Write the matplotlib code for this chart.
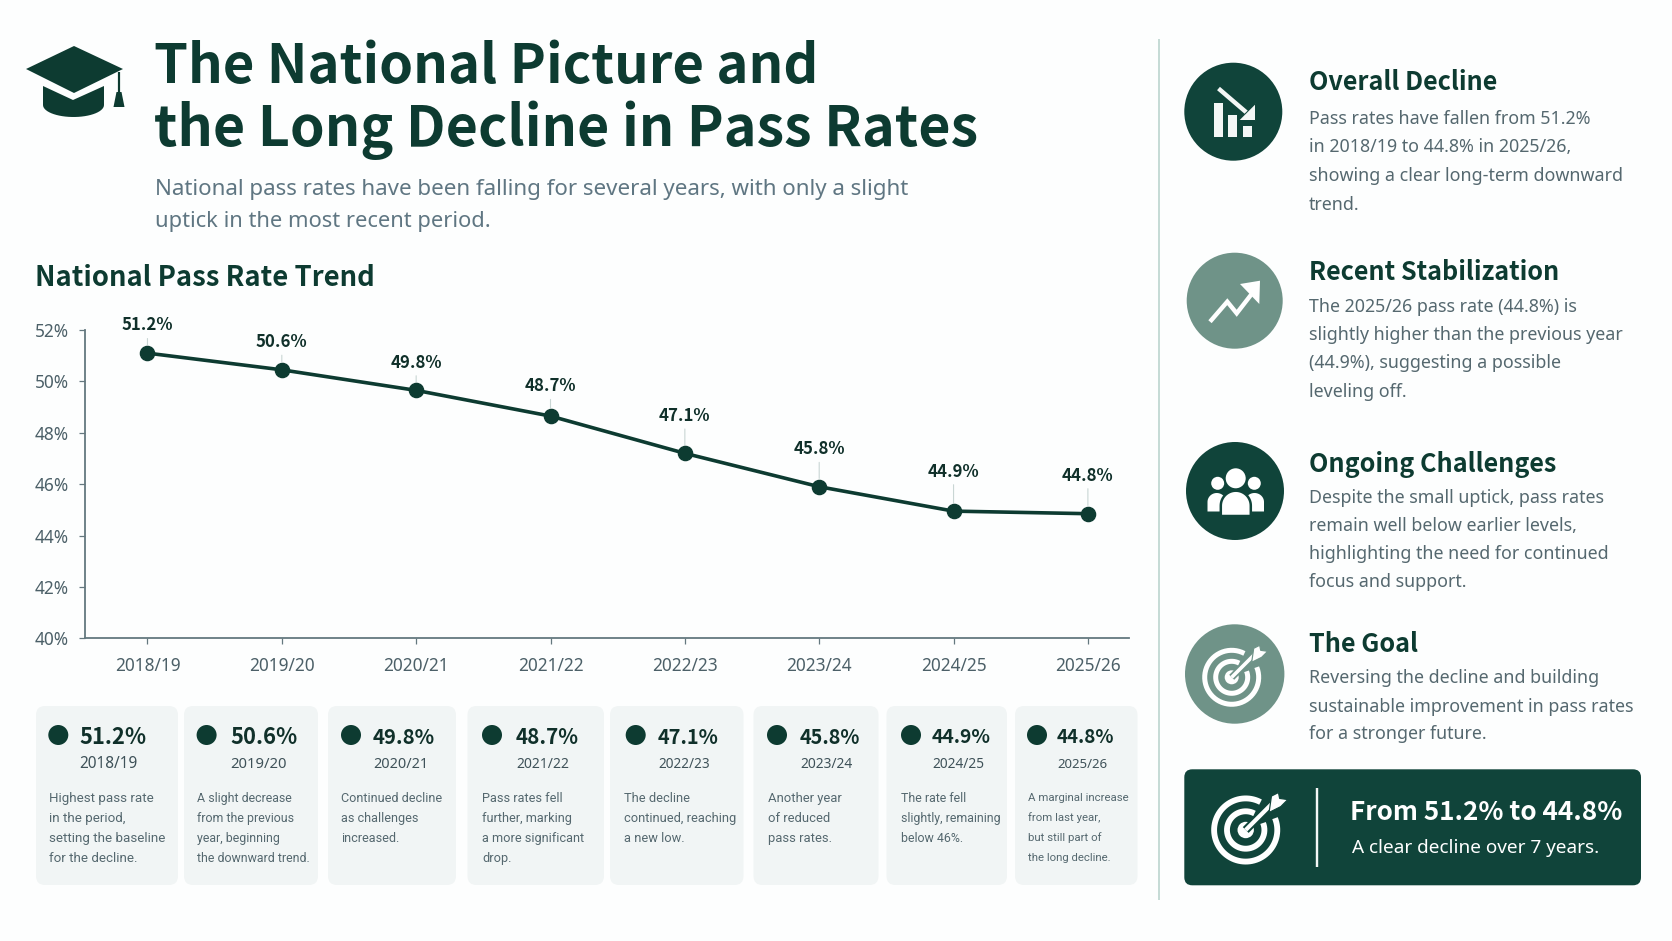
import numpy as np
import matplotlib
matplotlib.use("Agg")
import matplotlib.pyplot as plt
from matplotlib.font_manager import FontProperties
from matplotlib.patches import Circle, FancyBboxPatch, Polygon, Rectangle, Ellipse
from matplotlib.textpath import TextPath

# ---- data ----
years = ["2018/19", "2019/20", "2020/21", "2021/22", "2022/23", "2023/24", "2024/25", "2025/26"]
rate_labels = ["51.2%", "50.6%", "49.8%", "48.7%", "47.1%", "45.8%", "44.9%", "44.8%"]
plotted_rates = [51.1, 50.45, 49.65, 48.65, 47.2, 45.9, 44.95, 44.85]
y_ticks = [40, 42, 44, 46, 48, 50, 52]
card_notes = [
    ["Highest pass rate", "in the period,", "setting the baseline", "for the decline."],
    ["A slight decrease", "from the previous", "year, beginning", "the downward trend."],
    ["Continued decline", "as challenges", "increased."],
    ["Pass rates fell", "further, marking", "a more significant", "drop."],
    ["The decline", "continued, reaching", "a new low."],
    ["Another year", "of reduced", "pass rates."],
    ["The rate fell", "slightly, remaining", "below 46%."],
    ["A marginal increase", "from last year,", "but still part of", "the long decline."],
]
side_heads = ["Overall Decline", "Recent Stabilization", "Ongoing Challenges", "The Goal"]
side_bodies = [
    ["Pass rates have fallen from 51.2%", "in 2018/19 to 44.8% in 2025/26,",
     "showing a clear long-term downward", "trend."],
    ["The 2025/26 pass rate (44.8%) is", "slightly higher than the previous year",
     "(44.9%), suggesting a possible", "leveling off."],
    ["Despite the small uptick, pass rates", "remain well below earlier levels,",
     "highlighting the need for continued", "focus and support."],
    ["Reversing the decline and building", "sustainable improvement in pass rates",
     "for a stronger future."],
]

# ---- style ----
W, H = 1672, 941
DARK = "#0d3b31"
CIRC = "#10443a"
SAGE = "#6f9388"
GREY = "#55686f"
INK = "#10302a"
CARD = "#f1f5f5"
BG = "#fdfefe"
SANS = "Noto Sans"
BOLD = "Noto Sans CJK SC"
BODY = "Roboto"


def fit(sample, family, weight, width_px):
    """font size in points at which `sample` is width_px wide at 100 dpi"""
    tp = TextPath((0, 0), sample, size=10, prop=FontProperties(family=family, weight=weight))
    return 10 * width_px * 0.72 / tp.get_extents().width


SUB_LINES = ["National pass rates have been falling for several years, with only a slight",
             "uptick in the most recent period."]
TITLE_LINES = ["The National Picture and", "the Long Decline in Pass Rates"]
CHART_SIZE = fit("National Pass Rate Trend", BOLD, "bold", 335)
HEAD_SIZE = fit("Recent Stabilization", BOLD, "bold", 247)
BODY_SIZE = fit("sustainable improvement in pass rates", SANS, "normal", 323)
BIG_SIZE = fit("From 51.2% to 44.8%", BOLD, "bold", 269)
SMALL_SIZE = fit("A clear decline over 7 years.", SANS, "normal", 246)
POINT_SIZE = fit("51.2%", BOLD, "bold", 50.6)
TICK_SIZE = fit("2018/19", SANS, "normal", 64)

fig = plt.figure(figsize=(W / 100, H / 100), dpi=100, facecolor=BG)
bg = fig.add_axes([0, 0, 1, 1])
bg.set_xlim(0, W)
bg.set_ylim(H, 0)
bg.axis("off")


def T(x, y, s, size, color=INK, weight="normal", family=SANS, va="baseline", ha="left"):
    return bg.text(x, y, s, fontsize=size, color=color, fontweight=weight, family=family, va=va, ha=ha, zorder=9)


def px(v):
    return v * 0.72


def polyline(pts, color="white", w=4, cap="butt", join="miter", z=5):
    a = np.array(pts)
    bg.plot(a[:, 0], a[:, 1], color=color, lw=px(w), solid_capstyle=cap, solid_joinstyle=join, zorder=z)


def ring(cx, cy, r, w, gap=(-62, -22), color="white", z=5):
    th = np.radians(np.linspace(gap[1], gap[0] + 360, 160))
    polyline(np.c_[cx + r * np.cos(th), cy + r * np.sin(th)], color, w, z=z)


def target(cx, cy, s, back):
    ring(cx, cy, 27 * s, 5 * s)
    ring(cx, cy, 16 * s, 5 * s)
    bg.add_patch(Circle((cx, cy), 7 * s, fc="white", ec="none", zorder=5))
    tip = (cx + 25 * s, cy - 25 * s)
    polyline([(cx, cy), tip], back, 7 * s, z=6)
    polyline([(cx, cy), tip], "white", 3.6 * s, z=7)
    bg.add_patch(Polygon([(cx + 20 * s, cy - 15 * s), (cx + 22 * s, cy - 29 * s), (cx + 28 * s, cy - 32 * s),
                          (cx + 29 * s, cy - 27 * s), (cx + 36 * s, cy - 26 * s), (cx + 30 * s, cy - 20 * s)],
                         fc="white", ec=back, lw=px(1.2), zorder=8))


# ---- header ----
bg.add_patch(Polygon([(26, 69), (74, 46), (123, 69), (74, 93)], fc=DARK, ec="none"))
t = np.linspace(0, np.pi, 30)
bg.add_patch(Polygon([(43, 86), (73, 100), (104, 86)] + list(zip(73.5 + 30.5 * np.cos(t), 105 + 12 * np.sin(t))),
                     fc=DARK, ec="none"))
polyline([(119, 72), (119, 94)], DARK, 2.2)
bg.add_patch(Polygon([(116.5, 92), (121.5, 92), (124.5, 107), (113.5, 107)], fc=DARK, ec="none"))

T(154, 83, TITLE_LINES[0], fit(TITLE_LINES[0], BOLD, "bold", 658), DARK, "bold", BOLD)
T(154, 145.7, TITLE_LINES[1], fit(TITLE_LINES[1], BOLD, "bold", 821), DARK, "bold", BOLD)
T(155, 195, SUB_LINES[0], fit(SUB_LINES[0], SANS, "normal", 752), "#5f7682")
T(155, 226.5, SUB_LINES[1], fit(SUB_LINES[1], SANS, "normal", 332), "#5f7682")
T(35, 286, "National Pass Rate Trend", CHART_SIZE, DARK, "bold", BOLD)

# ---- chart ----
AL, AR, AT, AB = 85, 1129, 330, 638.3
ax = fig.add_axes([AL / W, 1 - AB / H, (AR - AL) / W, (AB - AT) / H], facecolor="none")
x = np.arange(len(years))
ax.plot(x, plotted_rates, color=DARK, lw=2.6, marker="o", ms=10.2, mfc=DARK, mec=DARK, zorder=4)
ax.set_xlim(-0.465, 7.306)
ax.set_ylim(40, 52)
ax.set_xticks(x, years)
ax.set_yticks(y_ticks, [f"{v}%" for v in y_ticks])
for side in ("top", "right"):
    ax.spines[side].set_visible(False)
for side in ("left", "bottom"):
    ax.spines[side].set_color("#64787f")
    ax.spines[side].set_linewidth(1.3)
ax.tick_params(axis="y", length=4.5, width=0.9, color="#64787f", pad=7, labelsize=TICK_SIZE, labelcolor="#4c6068")
ax.tick_params(axis="x", length=4, width=0.9, color="#64787f", pad=9.5, labelsize=TICK_SIZE, labelcolor="#4c6068")
for lab in ax.get_xticklabels() + ax.get_yticklabels():
    lab.set_family(SANS)
label_offsets = [20, 20, 20, 21.5, 27, 27, 28.5, 27.5]
for xi, yi, lab, off in zip(x, plotted_rates, rate_labels, label_offsets):
    ax.annotate(lab, (xi, yi), xytext=(0, off), textcoords="offset points", ha="center", va="center",
                fontsize=POINT_SIZE, fontweight="bold", family=BOLD, color=INK,
                arrowprops=dict(arrowstyle="-", color="#c9d6d4", lw=0.8, shrinkA=1, shrinkB=6))

# ---- cards ----
card_x = [(36, 178), (184, 318), (328, 456), (467.5, 604), (610, 743.5), (753.5, 878.5), (886.5, 1007), (1015, 1137.5)]
dot_x = [58.3, 206.6, 351, 492, 635.7, 777, 911, 1037]
val_x = [79.4, 230, 373, 516, 658, 800, 932, 1057]
note_x = [48.7, 196.6, 341, 482.5, 623.6, 768, 900.7, 1027.5]
val_w = [66, 66, 61, 62, 60, 59.6, 58, 56.5]
year_w = [57, 55, 51, 51.7, 50.4, 51.8, 50.7, 49]
note_line = [2, 3, 0, 2, 1, 0, 1, 0]          # which line of a card sets its text width
note_w = [115, 112, 100, 100.8, 110.7, 73, 98.6, 99.6]
for i in range(len(years)):
    x0, x1 = card_x[i]
    bg.add_patch(FancyBboxPatch((x0 + 9, 706 + 9), x1 - x0 - 18, 179 - 18, boxstyle="round,pad=9,rounding_size=9",
                                fc=CARD, ec="none", zorder=1))
    bg.add_patch(Ellipse((dot_x[i], 735), 20, 20, fc=DARK, ec="none", zorder=2))
    T(val_x[i], 735.5, rate_labels[i], fit(rate_labels[i], BOLD, "bold", val_w[i]), INK, "bold", BOLD,
      va="center_baseline")
    T(val_x[i], 762.5, years[i], fit(years[i], SANS, "normal", year_w[i]), "#3f5259", va="center_baseline")
    ns = fit(card_notes[i][note_line[i]], BODY, "normal", note_w[i])
    for j, line in enumerate(card_notes[i]):
        T(note_x[i], 797 + j * 20, line, ns, GREY, family=BODY, va="center_baseline")

# ---- right panel ----
polyline([(1159, 39), (1159, 900)], "#c6dbd6", 2, z=1)
circles = [(1233.3, 111.7, 49, CIRC), (1234.7, 300.7, 48, SAGE), (1235, 491, 49, CIRC), (1234.7, 674, 49.7, SAGE)]
for cx, cy, r, col in circles:
    bg.add_patch(Circle((cx, cy), r, fc=col, ec="none", zorder=2))
head_y = [90, 280.5, 472, 652.5]
body_y = [[116.7, 145.3, 174, 202.7], [304.7, 332.7, 361.3, 390], [495.7, 524, 552, 580], [676, 704.7, 732.3]]
for h, hy, lines, ys in zip(side_heads, head_y, side_bodies, body_y):
    T(1309, hy, h, HEAD_SIZE, DARK, "bold", BOLD)
    for line, ly in zip(lines, ys):
        T(1309, ly, line, BODY_SIZE, GREY, va="center_baseline")

# icon 1 : bars with falling arrow
for bx, bw, by in [(1214, 9.3, 103.3), (1228.3, 9, 115), (1242.7, 9, 126)]:
    bg.add_patch(Rectangle((bx, by), bw, 136.7 - by, fc="#f4f7f6", ec="none", zorder=3))
polyline([(1218.5, 88.5), (1250, 115.5)], CIRC, 9, z=4)
polyline([(1218.5, 88.5), (1250, 115.5)], "#f4f7f6", 4.4, z=5)
bg.add_patch(Polygon([(1255, 103.3), (1255, 120), (1238, 120)], fc="#f4f7f6", ec=CIRC, lw=px(1), zorder=6))

# icon 2 : rising arrow
polyline([(1210, 321.7), (1227.3, 301.7), (1236.7, 313.3), (1254, 291)], "white", 4.4)
bg.add_patch(Polygon([(1240, 284), (1260, 280.7), (1259.3, 304)], fc="white", ec="none", zorder=6))

# icon 3 : people
for hx in (1217.7, 1254.3):
    bg.add_patch(Circle((hx, 483.3), 6.5, fc="white", ec="none", zorder=4))
arc = np.linspace(np.pi, 2 * np.pi, 30)
for bx0, bx1 in [(1207.5, 1226), (1245, 1264)]:
    mx, rx = (bx0 + bx1) / 2, (bx1 - bx0) / 2
    bg.add_patch(Polygon(list(zip(mx + rx * np.cos(arc), 502 + 9 * np.sin(arc))) + [(bx1, 511.5), (bx0, 511.5)],
                         fc="white", ec="none", zorder=4))
bg.add_patch(Circle((1235.7, 478.3), 11, fc="white", ec=CIRC, lw=px(2), zorder=5))
bg.add_patch(Polygon(list(zip(1235.8 + 15 * np.cos(arc), 505.7 + 15 * np.sin(arc))) + [(1250.8, 516), (1220.8, 516)],
                     fc="white", ec=CIRC, lw=px(2.5), zorder=5))

# icon 4 : target
target(1231.7, 677.3, 1.0, SAGE)

# ---- callout ----
bg.add_patch(FancyBboxPatch((1184.3 + 8, 769.3 + 8), 456.7 - 16, 116 - 16, boxstyle="round,pad=8,rounding_size=8",
                            fc=CIRC, ec="none", zorder=2))
polyline([(1317, 788), (1317, 867)], "#f4f7f6", 2.4, z=3)
target(1245.7, 830, 1.17, CIRC)
T(1350.5, 820.5, "From 51.2% to 44.8%", BIG_SIZE, "white", "bold", BOLD)
T(1351.5, 853, "A clear decline over 7 years.", SMALL_SIZE, "white")

fig.savefig("out.png", dpi=100, facecolor=BG)
